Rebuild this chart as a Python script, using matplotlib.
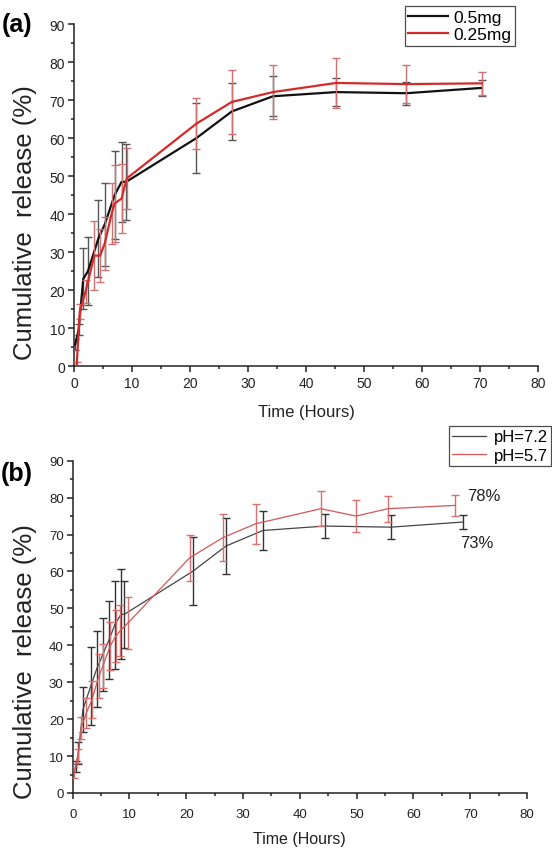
import matplotlib
matplotlib.use("Agg")
import matplotlib.pyplot as plt
from matplotlib.lines import Line2D
from matplotlib.ticker import MultipleLocator

plt.rcParams['font.family'] = ['Liberation Sans', 'DejaVu Sans']

# ---------------- data: panel (a) ----------------
a_black_t = [0.2, 0.8, 1.6, 2.4, 4.2, 5.3, 7.0, 8.2, 9.0, 21.1, 27.2, 34.3, 45.2, 57.3, 70.3]
a_black_v = [5.7, 9.6, 23.0, 25.0, 33.6, 37.3, 45.0, 48.5, 48.5, 60.0, 67.0, 71.0, 72.1, 71.8, 73.2]
a_black_e = [1.5, 1.5, 8.0, 9.0, 10.0, 11.0, 11.5, 10.5, 10.0, 9.2, 7.6, 5.3, 3.6, 3.0, 2.0]

a_red_t = [0.45, 1.0, 2.0, 3.5, 4.5, 5.3, 6.5, 7.0, 8.2, 9.1, 21.1, 27.2, 34.3, 45.2, 57.3, 70.3]
a_red_v = [0.0, 14.4, 19.7, 29.1, 29.1, 32.3, 40.2, 42.8, 44.1, 49.4, 63.8, 69.5, 72.1, 74.5, 74.2, 74.4]
a_red_e = [1.0, 2.0, 3.0, 9.0, 7.0, 7.0, 8.0, 10.0, 9.0, 8.0, 6.7, 8.3, 7.0, 6.5, 5.0, 3.0]

a_labels = ['0.5mg', '0.25mg']

# ---------------- data: panel (b) ----------------
b_black_t = [0.5, 1.0, 1.8, 3.2, 4.2, 5.3, 6.4, 7.4, 8.5, 9.1, 21.2, 27.0, 33.5, 44.4, 56.0, 68.8]
b_black_v = [7.2, 10.8, 22.6, 29.0, 33.5, 37.5, 41.5, 45.5, 48.4, 48.4, 60.1, 66.9, 71.1, 72.3, 72.0, 73.4]
b_black_e = [1.5, 3.0, 6.0, 10.5, 10.3, 10.0, 10.5, 11.8, 12.2, 9.0, 9.2, 7.5, 5.3, 3.3, 3.2, 1.8]

b_red_t = [0.3, 0.9, 1.5, 2.4, 3.4, 4.6, 5.3, 6.6, 7.6, 8.4, 9.7, 20.6, 26.5, 32.2, 43.7, 49.9, 55.5, 67.4]
b_red_v = [5.5, 10.0, 17.6, 21.7, 25.3, 31.6, 34.4, 39.8, 42.5, 44.0, 46.0, 63.7, 69.2, 72.9, 77.0, 75.0, 77.0, 77.9]
b_red_e = [1.5, 2.0, 3.0, 4.0, 5.0, 6.0, 6.0, 6.5, 7.0, 7.0, 7.0, 6.3, 6.3, 5.4, 4.7, 4.4, 3.5, 2.9]

b_labels = ['pH=7.2', 'pH=5.7']
b_annot = ['78%', '73%']

x_ticks = [0, 10, 20, 30, 40, 50, 60, 70, 80]
y_ticks = [0, 10, 20, 30, 40, 50, 60, 70, 80, 90]

W, H = 552, 853
fig = plt.figure(figsize=(W / 100, H / 100), dpi=100)
fig.patch.set_facecolor('white')


def make_axes(l, r, t, b):
    return fig.add_axes([l / W, 1 - b / H, (r - l) / W, (b - t) / H])


def style(ax, tick_fs, xpad):
    ax.set_xlim(0, 80)
    ax.set_ylim(0, 90)
    ax.set_xticks(x_ticks)
    ax.set_yticks(y_ticks)
    ax.xaxis.set_minor_locator(MultipleLocator(5))
    ax.yaxis.set_minor_locator(MultipleLocator(5))
    for s in ['top', 'right']:
        ax.spines[s].set_visible(False)
    for s in ['left', 'bottom']:
        ax.spines[s].set_linewidth(1.1)
        ax.spines[s].set_color('#222222')
    ax.tick_params(which='major', direction='out', length=4.5, width=1.1,
                   labelsize=tick_fs, color='#222222', labelcolor='#222222', pad=2)
    ax.tick_params(axis='x', which='major', pad=xpad)
    ax.tick_params(which='minor', direction='out', length=2.5, width=1.1, color='#222222')
    ax.patch.set_alpha(0)


# ---------------- panel (a) ----------------
ax1 = make_axes(74, 538, 25, 367.3)
style(ax1, 10, 2.5)
ax1.errorbar(a_black_t, a_black_v, yerr=a_black_e, color='#111111', lw=1.6,
             ecolor='#555555', elinewidth=1.0, capsize=3, capthick=1.0, zorder=3)
ax1.errorbar(a_red_t, a_red_v, yerr=a_red_e, color='#d42a2a', lw=1.6,
             ecolor='#d07070', elinewidth=1.0, capsize=3, capthick=1.0, zorder=4)
ax1.set_xlabel('Time (Hours)', fontsize=12, labelpad=10, color='#222222')

h1 = [Line2D([], [], color='#111111', lw=1.6), Line2D([], [], color='#d42a2a', lw=1.6)]
leg1 = fig.legend(h1, a_labels, loc='upper left', bbox_to_anchor=(405 / W, 1 - 7 / H),
                  fontsize=12.5, frameon=True, fancybox=False, borderpad=0.2,
                  handlelength=2.3, handletextpad=0.3, labelspacing=0.15, borderaxespad=0)
leg1.get_frame().set_edgecolor('#222222')
leg1.get_frame().set_linewidth(0.9)

fig.text(17 / W, 1 - 25 / H, '(a)', fontsize=18, fontweight='bold', ha='center', va='center')
fig.text(25 / W, 1 - 223 / H, 'Cumulative  release (%)', fontsize=18.5, rotation=90,
         ha='center', va='center', color='#222222')

# ---------------- panel (b) ----------------
ax2 = make_axes(72.7, 527, 461.7, 794)
style(ax2, 9.5, 6.0)
ax2.errorbar(b_black_t, b_black_v, yerr=b_black_e, color='#444444', lw=0.9,
             ecolor='#333333', elinewidth=1.0, capsize=3, capthick=1.0, zorder=3)
ax2.errorbar(b_red_t, b_red_v, yerr=b_red_e, color='#d05858', lw=0.9,
             ecolor='#d87070', elinewidth=1.0, capsize=3, capthick=1.0, zorder=4)
ax2.set_xlabel('Time (Hours)', fontsize=11.5, labelpad=8, color='#222222')

ax2.text(69.4, 80.5, b_annot[0], fontsize=12, ha='left', va='center', color='#222222')
ax2.text(68.2, 67.8, b_annot[1], fontsize=12, ha='left', va='center', color='#222222')

h2 = [Line2D([], [], color='#444444', lw=0.9), Line2D([], [], color='#d05858', lw=0.9)]
leg2 = fig.legend(h2, b_labels, loc='upper left', bbox_to_anchor=(449 / W, 1 - 427 / H),
                  fontsize=12, frameon=True, fancybox=False, borderpad=0.2,
                  handlelength=2.0, handletextpad=0.5, labelspacing=0.2, borderaxespad=0)
leg2.get_frame().set_edgecolor('#222222')
leg2.get_frame().set_linewidth(0.9)

fig.text(17 / W, 1 - 474 / H, '(b)', fontsize=18, fontweight='bold', ha='center', va='center')
fig.text(25 / W, 1 - 662 / H, 'Cumulative  release (%)', fontsize=18.5, rotation=90,
         ha='center', va='center', color='#222222')

fig.savefig('out.png', dpi=100, facecolor='white')
